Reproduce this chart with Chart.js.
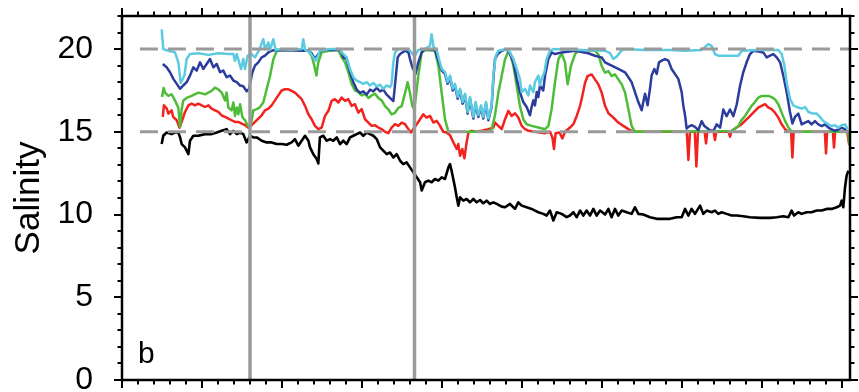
<!DOCTYPE html>
<html>
<head>
<meta charset="utf-8">
<script src="https://cdn.jsdelivr.net/npm/chart.js@4/dist/chart.umd.min.js"></script>
<style>
  html, body { margin: 0; padding: 0; background: #fff; }
  canvas { display: block; }
</style>
</head>
<body>
<canvas id="salinityChart" width="859" height="392"></canvas>
<script>
// axis + labels
const yTicks = [0, 5, 10, 15, 20];
const yTitle = "Salinity";
const panelLabel = "b";
const markerDays = [8.0, 18.28];
const refLevels = [20, 15];
const refStartDay = 1.12;

// cyan (top) series
const cyanDays = [2.48, 2.58, 2.9, 3.31, 3.52, 3.67, 3.9, 4.04, 4.25, 4.77, 5.4, 6.02, 6.65, 6.96, 7.06, 7.17, 7.44, 7.58, 7.69, 7.85, 8.1, 8.31, 8.6, 8.83, 8.94, 9.15, 9.25, 9.46, 9.6, 9.98, 10.6, 11.23, 11.33, 11.44, 11.75, 11.96, 12.12, 12.37, 13.0, 13.63, 13.73, 14.04, 14.25, 14.46, 14.67, 14.88, 15.08, 15.29, 15.5, 15.71, 15.92, 16.13, 16.33, 16.54, 16.75, 16.85, 16.96, 17.06, 17.27, 17.79, 18.0, 18.15, 18.31, 18.52, 18.94, 19.25, 19.35, 19.48, 19.67, 19.81, 19.98, 20.19, 20.35, 20.5, 20.67, 20.81, 20.98, 21.13, 21.29, 21.44, 21.6, 21.75, 21.96, 22.1, 22.27, 22.44, 22.58, 22.75, 22.9, 23.1, 23.21, 23.36, 23.52, 24.04, 24.25, 24.46, 24.67, 24.87, 24.98, 25.19, 25.4, 25.5, 25.71, 25.81, 26.02, 26.12, 26.23, 26.4, 26.54, 26.75, 26.96, 28.52, 30.19, 30.5, 30.71, 30.92, 31.13, 31.33, 32.69, 34.25, 35.19, 36.23, 36.4, 36.65, 36.85, 37.06, 37.27, 37.9, 38.52, 38.73, 39.77, 41.02, 41.23, 41.4, 41.54, 41.75, 41.96, 42.17, 42.48, 42.69, 42.9, 43.21, 43.42, 43.63, 43.83, 44.15, 44.35, 44.56, 44.77, 44.98, 45.19, 45.35];
const cyanSal = [21.2, 20.0, 19.9, 19.8, 19.2, 17.95, 18.4, 19.4, 19.7, 19.75, 19.65, 19.75, 19.7, 19.7, 19.3, 19.7, 18.8, 19.4, 18.8, 19.6, 19.7, 19.5, 20.0, 20.6, 20.0, 20.4, 19.95, 20.6, 19.95, 20.0, 19.95, 20.0, 20.6, 19.95, 19.8, 19.5, 19.3, 19.9, 20.0, 20.0, 19.8, 19.5, 18.8, 18.3, 18.1, 18.0, 17.9, 18.0, 17.8, 17.95, 17.75, 17.85, 17.6, 17.8, 17.7, 17.9, 19.2, 19.8, 20.0, 20.0, 19.9, 19.7, 19.6, 19.95, 20.0, 20.2, 20.9, 20.1, 19.95, 19.4, 18.8, 18.6, 18.0, 18.4, 17.6, 17.9, 17.1, 17.6, 16.8, 17.3, 16.2, 17.1, 15.9, 16.8, 16.0, 16.6, 15.9, 16.8, 15.8, 16.6, 18.4, 19.6, 19.9, 20.0, 19.8, 19.4, 18.8, 18.2, 17.4, 17.6, 17.2, 17.8, 17.4, 18.0, 18.4, 17.8, 18.2, 18.6, 19.4, 19.9, 20.0, 19.95, 19.9, 19.75, 19.4, 19.55, 19.8, 20.0, 19.95, 19.95, 19.9, 19.95, 20.1, 20.3, 20.2, 19.7, 19.6, 19.6, 19.6, 19.9, 19.95, 19.95, 19.7, 19.0, 18.0, 17.0, 16.6, 16.5, 16.4, 16.5, 16.2, 16.1, 16.1, 15.9, 15.65, 15.45, 15.35, 15.4, 15.25, 15.4, 15.45, 15.15];

// dark blue series
const blueDays = [2.55, 2.79, 3.0, 3.21, 3.42, 3.63, 3.83, 4.04, 4.25, 4.46, 4.67, 4.88, 5.08, 5.29, 5.5, 5.71, 5.92, 6.13, 6.33, 6.54, 6.75, 6.96, 7.17, 7.38, 7.58, 7.79, 7.94, 8.15, 8.31, 8.52, 8.73, 8.94, 9.15, 9.35, 9.56, 11.65, 11.85, 12.06, 12.27, 12.48, 13.63, 13.73, 13.83, 14.04, 14.25, 14.46, 14.67, 14.88, 15.08, 15.29, 15.5, 15.71, 15.92, 16.13, 16.33, 16.54, 16.75, 16.96, 17.1, 17.23, 17.38, 17.69, 17.9, 18.0, 18.15, 18.35, 18.52, 18.73, 18.94, 19.56, 19.77, 19.98, 20.19, 20.35, 20.5, 20.67, 20.81, 20.98, 21.13, 21.29, 21.44, 21.6, 21.75, 21.96, 22.1, 22.27, 22.44, 22.58, 22.75, 22.9, 23.1, 23.21, 23.31, 23.48, 23.73, 24.04, 24.25, 24.46, 24.67, 24.87, 25.08, 25.29, 25.5, 25.6, 25.71, 25.81, 25.92, 26.02, 26.12, 26.33, 26.44, 26.65, 26.85, 27.06, 27.48, 28.31, 29.15, 29.56, 29.98, 30.19, 30.6, 31.02, 31.44, 31.65, 31.85, 32.06, 32.27, 32.48, 32.58, 32.69, 32.85, 33.0, 33.1, 33.27, 33.42, 33.56, 33.73, 33.94, 34.15, 34.35, 34.77, 34.98, 35.08, 35.19, 35.29, 35.4, 35.6, 35.81, 36.02, 36.23, 36.4, 36.54, 36.75, 36.96, 37.17, 37.38, 37.58, 37.79, 38.0, 38.21, 38.42, 38.63, 38.83, 39.04, 39.25, 39.46, 39.77, 40.08, 40.29, 40.5, 40.71, 40.92, 41.13, 41.33, 41.54, 41.75, 41.9, 42.06, 42.27, 42.48, 42.69, 42.9, 43.1, 43.31, 43.52, 43.73, 43.94, 44.15, 44.35, 44.56, 44.77, 44.98, 45.19, 45.35];
const blueSal = [19.1, 18.9, 18.6, 18.2, 17.9, 17.6, 17.8, 18.0, 18.4, 18.9, 18.7, 19.2, 18.8, 19.1, 19.4, 18.9, 19.1, 18.6, 18.7, 18.3, 18.4, 18.1, 18.0, 17.8, 17.75, 17.45, 17.6, 18.6, 19.0, 19.2, 19.5, 19.6, 19.8, 19.9, 19.95, 19.9, 19.75, 19.4, 19.7, 19.95, 19.95, 19.8, 19.5, 19.4, 18.6, 18.0, 17.55, 17.35, 17.45, 17.25, 17.55, 17.45, 17.65, 17.45, 17.55, 17.25, 17.05, 16.85, 18.2, 19.5, 19.7, 19.9, 19.8, 19.4, 18.9, 18.5, 19.2, 19.8, 20.0, 19.95, 19.3, 18.7, 18.5, 17.9, 18.3, 17.5, 17.8, 17.0, 17.5, 16.7, 17.2, 16.1, 17.0, 15.8, 16.7, 15.9, 16.5, 15.8, 16.7, 15.7, 16.5, 18.2, 19.4, 19.7, 19.9, 20.0, 19.7, 19.2, 18.2, 17.4, 16.8, 16.5, 16.0, 16.5, 16.9, 16.6, 17.4, 17.1, 17.8, 17.5, 18.4, 19.4, 19.8, 19.7, 19.8, 19.9, 19.75, 19.6, 19.5, 19.2, 19.0, 18.8, 18.6, 18.3, 18.0, 17.4, 16.8, 16.3, 16.8, 17.3, 16.6, 17.6, 18.4, 18.8, 18.5, 19.2, 19.3, 19.4, 19.3, 18.8, 18.2, 17.4, 16.6, 16.0, 15.2, 15.3, 15.4, 15.3, 15.1, 15.65, 15.35, 15.25, 15.1, 15.05, 15.45, 15.25, 16.35, 15.95, 16.35, 15.95, 16.65, 17.8, 18.6, 19.2, 19.7, 19.9, 19.85, 19.8, 19.5, 19.6, 19.7, 19.5, 19.2, 18.4, 17.4, 16.2, 15.5, 15.9, 16.1, 15.45, 15.55, 15.65, 15.45, 15.65, 15.45, 15.35, 15.45, 15.25, 15.15, 15.05, 15.15, 15.25, 15.15, 15.0];

// green series
const greenDays = [2.5, 2.6, 2.69, 2.9, 3.1, 3.31, 3.52, 3.63, 3.73, 3.83, 4.04, 4.35, 4.77, 5.19, 5.6, 5.81, 6.02, 6.23, 6.44, 6.54, 6.65, 6.85, 6.96, 7.06, 7.17, 7.27, 7.38, 7.52, 7.69, 7.85, 8.06, 8.21, 8.42, 8.6, 8.83, 9.04, 9.25, 9.46, 9.67, 9.98, 11.65, 11.85, 12.02, 12.15, 12.27, 12.48, 12.9, 13.52, 13.73, 13.94, 14.15, 14.35, 14.56, 14.77, 14.98, 15.19, 15.4, 15.6, 15.81, 16.02, 16.23, 16.44, 16.65, 16.85, 17.06, 17.27, 17.48, 17.69, 17.85, 18.0, 18.15, 18.27, 18.52, 18.73, 18.94, 19.56, 19.77, 19.98, 20.19, 20.4, 22.9, 23.1, 23.31, 23.52, 23.73, 23.94, 24.15, 24.25, 24.46, 24.67, 24.87, 25.08, 25.29, 25.6, 26.02, 26.44, 26.65, 26.85, 27.06, 27.27, 27.48, 27.69, 27.85, 28.06, 28.31, 28.52, 29.56, 29.77, 29.98, 30.19, 30.4, 30.6, 30.81, 31.02, 31.23, 31.44, 31.65, 31.85, 32.06, 38.1, 38.31, 38.52, 38.73, 38.94, 39.15, 39.35, 39.56, 39.77, 39.98, 40.19, 40.4, 40.6, 40.81, 41.02, 41.23, 41.44, 41.65, 41.86, 45.38, 45.48];
const greenSal = [17.1, 17.65, 17.37, 17.17, 17.27, 16.9, 16.45, 15.3, 16.35, 16.9, 17.05, 17.17, 17.37, 17.27, 17.47, 17.67, 17.57, 17.37, 16.9, 17.37, 16.45, 16.3, 16.77, 15.96, 16.47, 16.06, 16.67, 15.9, 15.7, 15.36, 15.45, 16.3, 16.37, 16.47, 16.77, 17.57, 18.37, 19.38, 19.88, 19.95, 19.9, 19.6, 19.0, 18.4, 19.2, 19.8, 19.9, 19.95, 19.5, 19.2, 18.6, 17.9, 17.5, 17.4, 17.2, 17.3, 17.05, 17.2, 17.3, 17.05, 16.9, 16.55, 16.35, 16.05, 16.15, 16.45, 16.55, 17.35, 18.0, 17.35, 16.55, 16.35, 18.4, 19.8, 19.95, 19.9, 19.0, 17.35, 15.75, 15.0, 15.0, 15.15, 16.0, 17.35, 18.37, 19.38, 19.88, 19.78, 19.0, 17.77, 16.57, 15.76, 15.46, 15.36, 15.26, 15.16, 15.36, 16.37, 17.97, 19.38, 19.74, 19.18, 17.87, 18.98, 19.68, 19.94, 19.9, 19.68, 18.98, 18.57, 18.67, 18.37, 18.47, 18.17, 17.87, 17.37, 16.37, 15.36, 15.0, 15.05, 15.2, 15.36, 15.72, 15.96, 16.27, 16.57, 16.8, 17.07, 17.17, 17.17, 17.17, 17.1, 16.97, 16.67, 16.16, 15.66, 15.26, 15.0, 15.0, 14.2];

// red series
const redDays = [2.55, 2.62, 2.8, 2.9, 3.1, 3.2, 3.42, 3.6, 3.73, 3.94, 4.15, 4.35, 4.56, 4.77, 4.98, 5.19, 5.4, 5.6, 5.81, 6.02, 6.23, 6.44, 6.65, 6.85, 7.06, 7.27, 7.48, 7.69, 7.9, 8.1, 8.31, 8.52, 8.73, 8.94, 9.15, 9.35, 9.56, 9.77, 9.98, 10.19, 10.4, 10.6, 10.81, 11.02, 11.23, 11.44, 11.65, 11.85, 12.06, 12.27, 12.48, 12.69, 12.9, 13.1, 13.31, 13.52, 13.73, 13.94, 14.15, 14.35, 14.56, 14.77, 14.98, 15.19, 15.4, 15.6, 15.81, 16.02, 16.23, 16.44, 16.65, 16.85, 17.06, 17.27, 17.48, 17.69, 17.9, 18.06, 18.42, 18.63, 18.83, 19.04, 19.25, 19.46, 19.67, 19.88, 20.08, 20.29, 20.5, 20.71, 20.92, 21.02, 21.13, 21.27, 21.4, 21.54, 21.65, 21.85, 22.06, 22.48, 22.9, 23.21, 23.31, 23.52, 23.73, 23.94, 24.15, 24.35, 24.56, 24.77, 24.98, 25.19, 25.4, 25.81, 26.44, 26.75, 26.9, 27.0, 27.1, 27.35, 27.52, 27.69, 28.0, 28.21, 28.42, 28.63, 28.77, 28.94, 29.1, 29.35, 29.56, 29.77, 29.98, 30.19, 30.4, 30.6, 30.81, 31.02, 31.33, 31.65, 31.96, 35.3, 35.4, 35.5, 35.8, 35.9, 36.0, 36.42, 36.5, 36.58, 36.98, 37.06, 37.14, 37.92, 38.0, 38.1, 38.42, 38.73, 38.94, 39.15, 39.35, 39.56, 39.77, 39.98, 40.19, 40.4, 40.6, 40.81, 41.02, 41.23, 41.44, 41.65, 41.82, 41.9, 41.98, 43.93, 44.0, 44.07, 44.43, 44.5, 44.57, 45.33, 45.45];
const redSal = [15.9, 16.6, 16.4, 16.1, 16.3, 15.9, 15.7, 15.25, 15.6, 16.2, 16.6, 16.7, 16.6, 16.7, 16.6, 16.5, 16.6, 16.4, 16.3, 16.2, 16.0, 15.9, 15.8, 15.7, 15.6, 15.6, 15.5, 15.4, 15.25, 15.4, 15.6, 15.8, 16.0, 16.3, 16.4, 16.6, 16.9, 17.2, 17.5, 17.57, 17.57, 17.47, 17.37, 17.17, 16.97, 16.57, 16.06, 15.76, 15.36, 15.16, 15.26, 15.96, 16.27, 16.87, 16.97, 16.77, 17.07, 16.87, 16.97, 16.57, 16.67, 16.16, 16.37, 15.76, 15.56, 15.36, 15.4, 15.26, 15.16, 15.0, 14.92, 15.26, 15.46, 15.36, 15.56, 15.46, 15.16, 14.96, 15.46, 15.76, 16.06, 15.86, 15.96, 15.56, 15.66, 15.36, 15.0, 14.96, 14.8, 14.36, 13.96, 14.26, 13.55, 13.96, 13.4, 14.36, 14.96, 15.06, 15.0, 15.06, 15.16, 15.26, 15.56, 15.36, 15.16, 15.76, 16.27, 15.96, 16.12, 15.86, 15.36, 15.16, 15.06, 15.0, 14.92, 15.0, 14.66, 13.96, 14.92, 14.96, 14.6, 15.0, 15.26, 15.46, 15.96, 16.57, 17.17, 17.97, 18.37, 18.47, 18.17, 17.87, 17.37, 16.57, 16.12, 15.96, 15.76, 15.56, 15.36, 15.16, 15.0, 15.0, 13.3, 15.0, 15.0, 12.9, 15.0, 15.0, 14.3, 15.0, 15.0, 14.5, 15.0, 15.0, 14.7, 15.06, 15.26, 15.46, 15.66, 15.86, 16.06, 16.27, 16.47, 16.57, 16.67, 16.47, 16.37, 16.16, 15.86, 15.46, 15.16, 15.0, 15.0, 13.45, 15.0, 15.0, 13.7, 15.0, 15.0, 14.05, 15.0, 15.0, 14.2];

// black (bottom) series
const blackDays = [2.48, 2.58, 2.79, 3.1, 3.31, 3.52, 3.63, 3.73, 3.94, 4.15, 4.25, 4.46, 4.77, 5.19, 5.6, 5.92, 6.23, 6.54, 6.75, 6.96, 7.17, 7.38, 7.58, 7.79, 8.0, 8.21, 8.42, 8.73, 9.04, 9.35, 9.67, 9.98, 10.29, 10.6, 10.81, 11.02, 11.23, 11.44, 11.65, 11.75, 11.96, 12.17, 12.27, 12.37, 12.58, 12.79, 13.0, 13.21, 13.42, 13.63, 13.83, 14.04, 14.25, 14.46, 14.67, 14.88, 15.08, 15.29, 15.5, 15.71, 15.92, 16.13, 16.33, 16.54, 16.75, 16.96, 17.17, 17.38, 17.58, 17.79, 18.0, 18.21, 18.42, 18.63, 18.73, 18.94, 19.15, 19.35, 19.56, 19.77, 19.98, 20.19, 20.4, 20.5, 20.6, 20.81, 20.92, 21.02, 21.13, 21.33, 21.54, 21.75, 21.96, 22.17, 22.38, 22.58, 22.79, 23.0, 23.21, 23.42, 23.73, 23.94, 24.25, 24.56, 24.77, 24.98, 25.29, 25.6, 25.81, 26.02, 26.33, 26.54, 26.75, 26.96, 27.17, 27.48, 27.79, 28.0, 28.21, 28.42, 28.63, 28.83, 29.04, 29.25, 29.46, 29.67, 29.88, 30.19, 30.4, 30.6, 30.81, 31.02, 31.23, 31.54, 31.85, 32.06, 32.27, 32.58, 33.0, 33.42, 33.83, 34.25, 34.67, 34.98, 35.19, 35.4, 35.6, 35.81, 36.13, 36.33, 36.54, 36.85, 37.06, 37.27, 37.48, 37.79, 38.1, 38.42, 38.83, 39.25, 39.88, 40.5, 40.92, 41.33, 41.65, 41.85, 42.0, 42.27, 42.48, 42.79, 43.1, 43.42, 43.73, 44.04, 44.35, 44.67, 44.88, 44.98, 45.08, 45.19, 45.29, 45.4];
const blackSal = [14.26, 14.76, 14.96, 14.86, 14.96, 14.96, 14.66, 14.26, 14.06, 13.65, 14.46, 14.76, 14.76, 14.86, 14.86, 14.96, 15.06, 15.16, 14.86, 15.06, 14.86, 14.96, 14.86, 14.36, 14.76, 14.66, 14.66, 14.46, 14.36, 14.36, 14.26, 14.26, 14.22, 14.36, 14.56, 14.16, 14.46, 14.76, 14.46, 14.06, 13.65, 13.35, 13.09, 14.66, 14.76, 14.46, 14.56, 14.46, 14.66, 14.26, 14.46, 14.26, 14.66, 14.76, 14.86, 14.96, 14.76, 14.96, 14.86, 14.76, 14.56, 14.06, 13.86, 13.65, 13.75, 13.45, 13.65, 13.25, 13.05, 13.15, 12.85, 12.55, 12.25, 11.95, 11.45, 11.95, 12.05, 11.95, 12.15, 12.05, 12.25, 12.15, 12.85, 13.05, 12.65, 11.65, 11.04, 10.54, 11.04, 10.84, 10.94, 10.74, 10.94, 10.74, 10.88, 10.68, 10.84, 10.64, 10.74, 10.64, 10.48, 10.44, 10.64, 10.34, 10.74, 10.54, 10.44, 10.34, 10.24, 10.14, 10.04, 9.94, 10.24, 9.64, 10.14, 10.04, 9.84, 9.94, 10.14, 9.84, 10.24, 9.94, 10.24, 9.94, 10.34, 9.94, 10.24, 10.0, 10.34, 9.84, 10.34, 9.94, 10.24, 10.14, 10.04, 10.44, 10.04, 10.0, 9.84, 9.74, 9.74, 9.74, 9.84, 9.84, 10.34, 9.94, 10.34, 10.04, 10.54, 10.04, 10.24, 10.14, 10.24, 10.04, 10.14, 10.04, 9.94, 9.94, 9.9, 9.84, 9.8, 9.8, 9.84, 9.9, 9.84, 10.24, 9.94, 10.14, 10.04, 10.14, 10.14, 10.24, 10.24, 10.34, 10.34, 10.44, 10.54, 10.84, 10.44, 11.65, 12.35, 12.65];

const FONT = '"Liberation Sans", Arial, Helvetica, sans-serif';
const GRAY = "#9a9a9a";

function toPoints(days, values) {
    return days.map((d, i) => ({ x: d, y: values[i] }));
}

function seriesLine(days, values, color, width) {
    return {
        data: toPoints(days, values),
        borderColor: color,
        borderWidth: width,
        pointRadius: 0,
        tension: 0,
        borderJoinStyle: "round"
    };
}

// ticks, frame and the panel letter
const framePlugin = {
    id: "frame",
    afterDraw(chart) {
        const { ctx, chartArea: a, scales } = chart;
        const x = scales.x, y = scales.y;
        ctx.save();
        ctx.strokeStyle = "#000";
        ctx.lineWidth = 2;
        ctx.beginPath();
        for (let v = Math.ceil(x.min); v <= x.max; v++) {
            const px = Math.round(x.getPixelForValue(v));
            const len = v % 5 === 0 ? 8 : 4.5;
            ctx.moveTo(px, a.bottom); ctx.lineTo(px, a.bottom + len);
            ctx.moveTo(px, a.top); ctx.lineTo(px, a.top - len);
        }
        for (let v = y.min; v <= y.max; v++) {
            const py = Math.round(y.getPixelForValue(v));
            const len = v % 5 === 0 ? 8 : 4.5;
            ctx.moveTo(a.left, py); ctx.lineTo(a.left - len, py);
            ctx.moveTo(a.right, py); ctx.lineTo(a.right + len, py);
        }
        ctx.stroke();
        ctx.lineWidth = 2.5;
        ctx.strokeRect(a.left, a.top, a.right - a.left, a.bottom - a.top);
        ctx.fillStyle = "#000";
        ctx.font = "30px " + FONT;
        ctx.textBaseline = "alphabetic";
        ctx.fillText(panelLabel, a.left + 16, a.bottom - 17);
        ctx.restore();
    }
};

const datasets = [
    ...markerDays.map(d => ({
        data: [{ x: d, y: 0 }, { x: d, y: 22 }],
        borderColor: GRAY, borderWidth: 3.5, pointRadius: 0
    })),
    ...refLevels.map(v => ({
        data: [{ x: refStartDay, y: v }, { x: 45.5, y: v }],
        borderColor: GRAY, borderWidth: 3, borderDash: [18, 10], pointRadius: 0
    })),
    seriesLine(cyanDays, cyanSal, "#5ccbe2", 2.5),
    seriesLine(blueDays, blueSal, "#2c3c9c", 2.5),
    seriesLine(greenDays, greenSal, "#4dbd38", 2.5),
    seriesLine(redDays, redSal, "#f2221e", 2.5),
    seriesLine(blackDays, blackSal, "#000000", 2.6)
];

new Chart(document.getElementById("salinityChart"), {
    type: "line",
    data: { datasets },
    options: {
        responsive: false,
        animation: false,
        devicePixelRatio: 1,
        parsing: true,
        layout: { padding: { top: 16, right: 9, bottom: 12, left: 0 } },
        plugins: { legend: { display: false }, tooltip: { enabled: false } },
        scales: {
            x: {
                type: "linear",
                min: 0,
                max: 45.5,
                display: false
            },
            y: {
                type: "linear",
                min: 0,
                max: 22,
                border: { display: false },
                grid: { display: true, drawOnChartArea: false, drawTicks: true, tickLength: 8, tickColor: "rgba(0,0,0,0)" },
                ticks: {
                    stepSize: 1,
                    autoSkip: false,
                    padding: 21,
                    color: "#000",
                    font: { family: FONT, size: 32 },
                    callback: v => yTicks.includes(v) ? String(v) : ""
                },
                title: {
                    display: true,
                    text: yTitle,
                    color: "#000",
                    font: { family: FONT, size: 35 },
                    padding: { top: 8, bottom: 0 }
                },
                afterFit(scale) {
                    scale.width = 122;
                    scale.paddingTop = 0;
                    scale.paddingBottom = 0;
                }
            }
        }
    },
    plugins: [framePlugin]
});
</script>
</body>
</html>
